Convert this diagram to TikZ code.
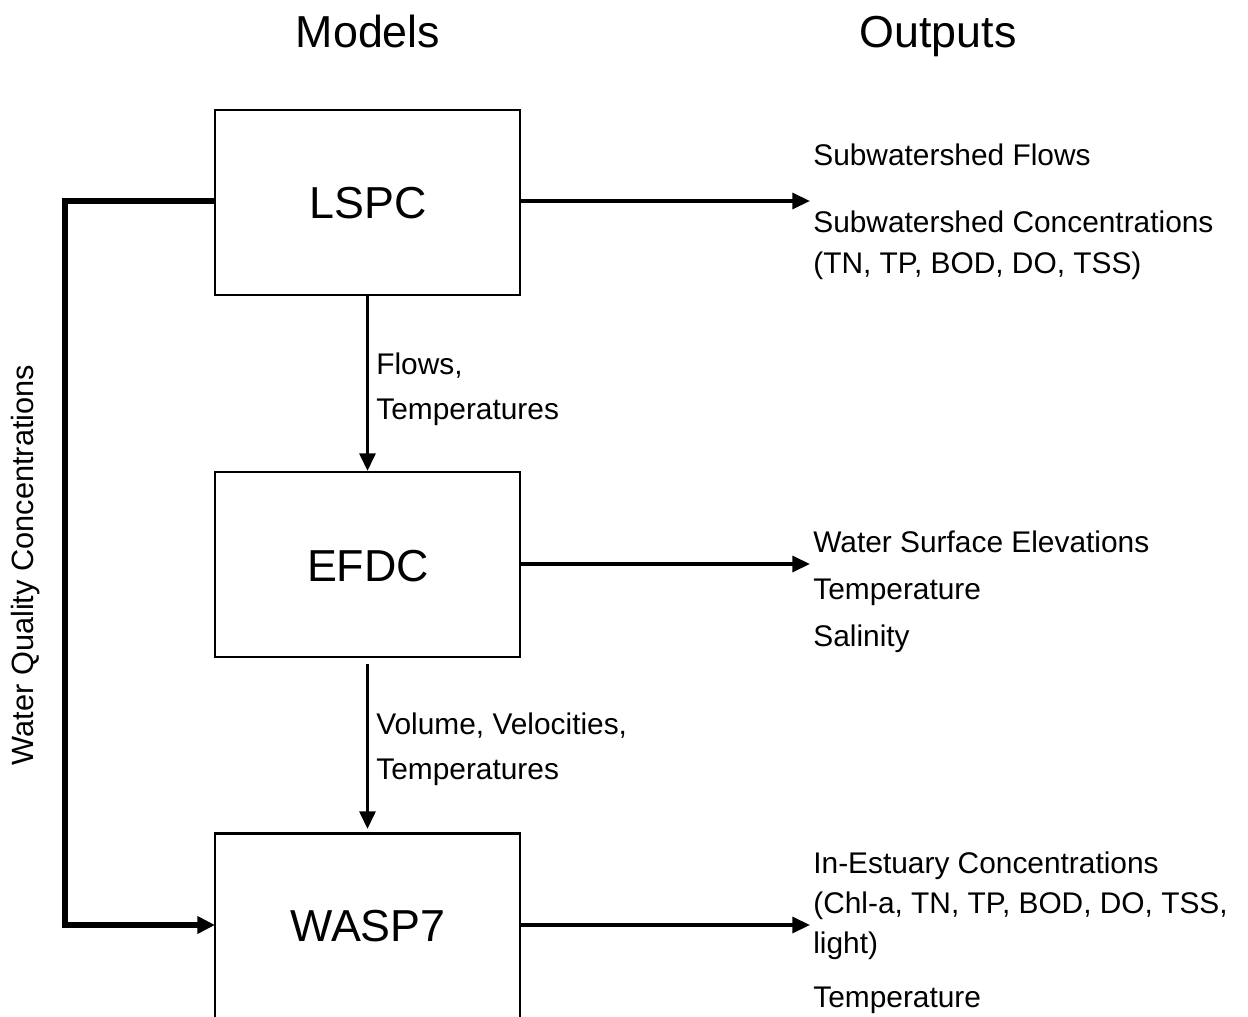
\documentclass[tikz,border=0pt]{standalone}
\usepackage{fontspec}
\setmainfont{Liberation Sans}
\usetikzlibrary{arrows.meta}
\begin{document}
\begin{tikzpicture}[x=0.02cm,y=-0.02cm,
  modelbox/.style={draw, line width=1.2pt, minimum width=6.1cm, minimum height=3.7cm, inner sep=0pt},
  boxtext/.style={font=\fontsize{25.5}{30}\selectfont, anchor=base},
  title/.style={font=\fontsize{25.5}{30}\selectfont, anchor=base},
  lbl/.style={font=\fontsize{17}{20}\selectfont, anchor=base west, inner sep=0pt},
  flow/.style={line width=1.9pt, -{Triangle[length=10pt,width=9pt]}},
  feedback/.style={line width=2.9pt, -{Triangle[length=10pt,width=9.5pt]}}
]
\useasboundingbox (0,0) rectangle (1248,1017);

% titles
\node[title] (tmodels) at (368,48) {Models};
\node[title] (toutputs) at (938,48) {Outputs};

% model boxes
\node[modelbox] (lspc) at (367.5,202.5) {};
\node[modelbox] (efdc) at (367.5,564.5) {};
\node[modelbox] (wasp) at (367.5,926) {};
\node[boxtext] (lspct) at (368,218) {LSPC};
\node[boxtext] (efdct) at (368,581) {EFDC};
\node[boxtext] (waspt) at (368,941) {WASP7};

% output arrow ends
\coordinate (o1) at (810,201);
\coordinate (o2) at (810,564);
\coordinate (o3) at (810,925);
\draw[flow] (lspc.east |- o1) -- (o1);
\draw[flow] (efdc.east |- o2) -- (o2);
\draw[flow] (wasp.east |- o3) -- (o3);

% vertical flows
\draw[flow] (lspc.south) -- (efdc.north);
\draw[flow, shorten <=3.5pt, shorten >=2pt] (efdc.south) -- (wasp.north);

% feedback loop
\coordinate (lspcw) at (215,201);
\coordinate (waspw) at (215,925);
\draw[feedback, line join=miter] (lspcw) -- (65,201) -- (65,925) -- (waspw);

% connector labels
\node[lbl] (f1) at (376,374) {Flows,};
\node[lbl] (f2) at (376,419) {Temperatures};
\node[lbl] (v1) at (376,734) {Volume, Velocities,};
\node[lbl] (v2) at (376,779) {Temperatures};

% side label
\node[font=\fontsize{17.5}{20}\selectfont, rotate=90, anchor=base, inner sep=0pt] (wq) at (33,565) {Water Quality Concentrations};

% outputs
\node[lbl] (a1) at (813,166) {Subwatershed Flows};
\node[lbl] (a2) at (813,233) {Subwatershed Concentrations};
\node[lbl] (a3) at (813,273) {(TN, TP, BOD, DO, TSS)};
\node[lbl] (b1) at (813,552) {Water Surface Elevations};
\node[lbl] (b2) at (813,599) {Temperature};
\node[lbl] (b3) at (813,646) {Salinity};
\node[lbl] (c1) at (813,873) {In-Estuary Concentrations};
\node[lbl] (c2) at (813,913) {(Chl-a, TN, TP, BOD, DO, TSS,};
\node[lbl] (c3) at (813,953) {light)};
\node[lbl] (c4) at (813,1007) {Temperature};
\end{tikzpicture}
\end{document}
